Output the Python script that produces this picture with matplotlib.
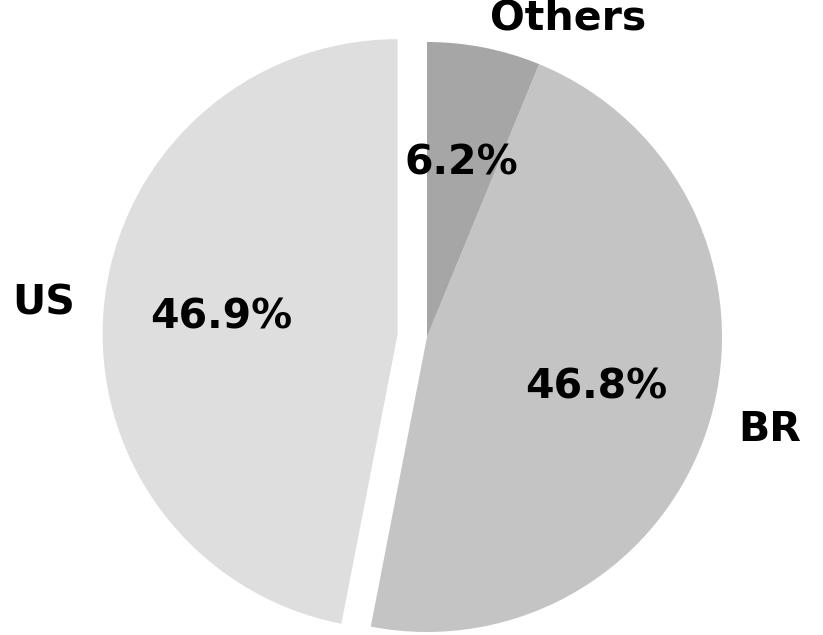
import matplotlib.pyplot as plt

labels = ['US', 'BR', 'Others']
shares = [46.9, 46.8, 6.2]
colors = ['#dedede', '#c4c4c4', '#a6a6a6']
explode = [0.1, 0, 0]

fig = plt.figure(figsize=(8.23, 6.35), dpi=100)
ax = fig.add_axes([0, 0, 1, 1])

ax.pie(shares, labels=labels, colors=colors, explode=explode,
       startangle=90, autopct='%1.1f%%',
       textprops={'fontsize': 29.5, 'fontweight': 'heavy', 'color': 'black'})

# place the pie centre at about (427, 337) px with a 295 px radius
r = 295.
cx, cy = 427., 635. - 337.
ax.set_xlim(-cx / r, (823. - cx) / r)
ax.set_ylim(-cy / r, (635. - cy) / r)
ax.set_aspect('auto')
ax.axis('off')

fig.savefig('out.png', dpi=100)
